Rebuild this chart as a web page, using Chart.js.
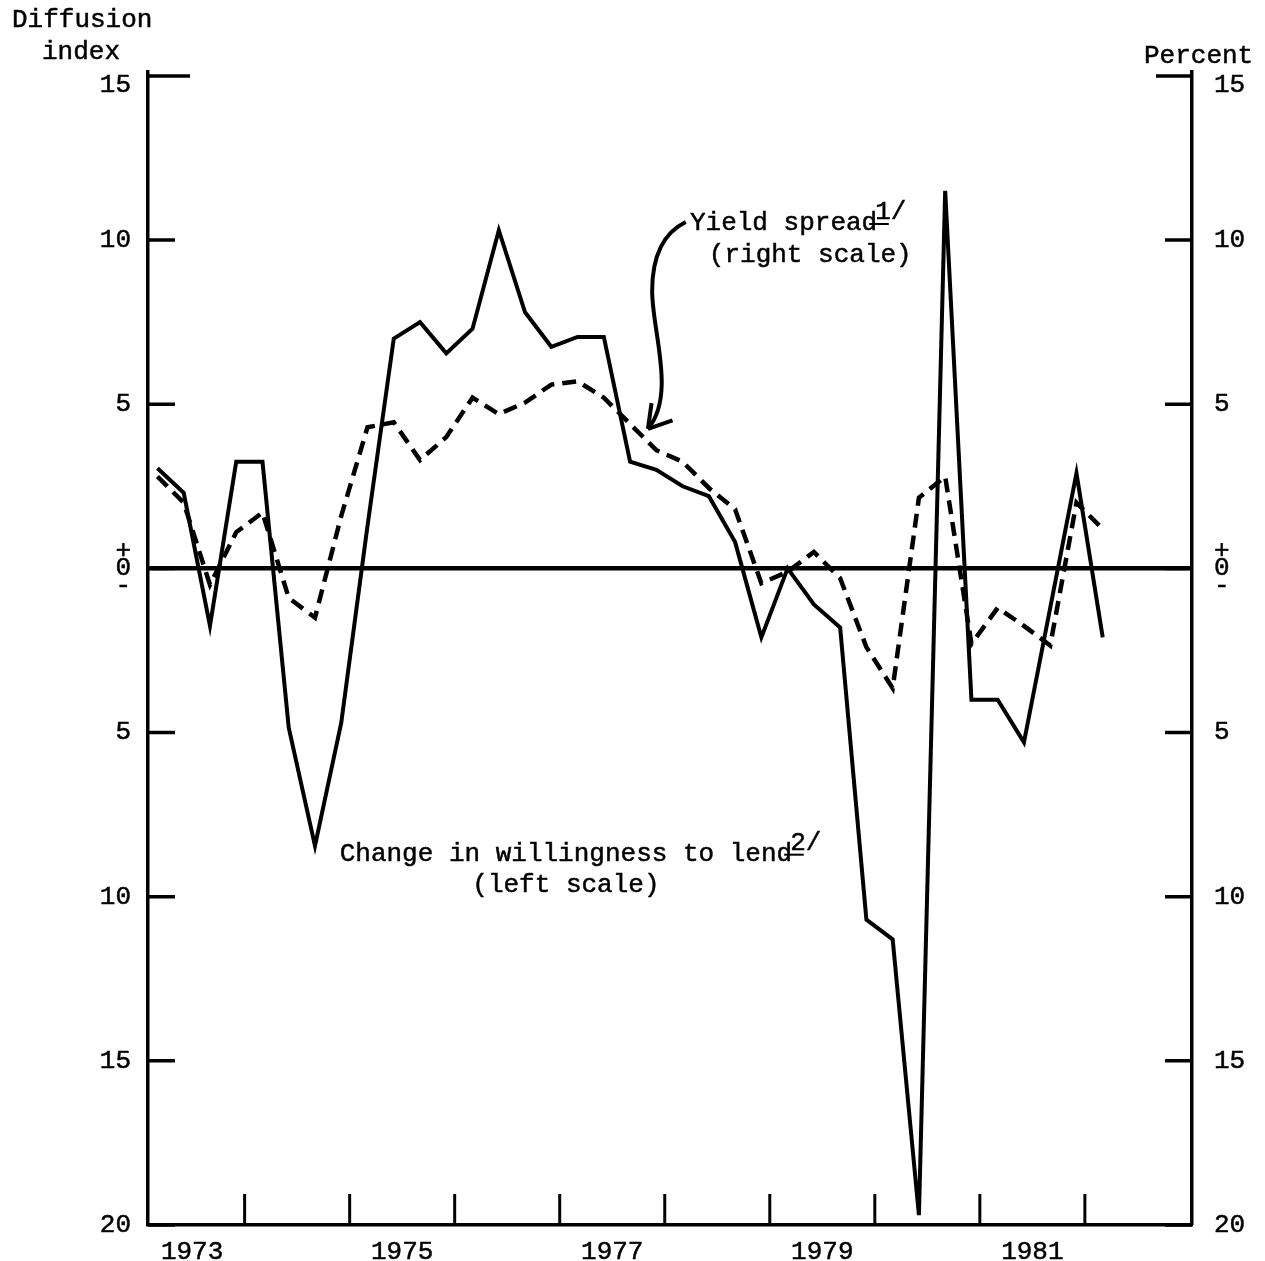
<!DOCTYPE html>
<html>
<head>
<meta charset="utf-8">
<script src="https://cdn.jsdelivr.net/npm/chart.js@4.4.0/dist/chart.umd.min.js"></script>
<style>
  html, body { margin: 0; padding: 0; background: #fff; }
  #chart { display: block; }
</style>
</head>
<body>
<canvas id="chart" width="1265" height="1261"></canvas>
<script>
// quarterly observations, 1973Q1 - 1982Q1
const quarters = [
    '1973Q1', '1973Q2', '1973Q3', '1973Q4',
    '1974Q1', '1974Q2', '1974Q3', '1974Q4',
    '1975Q1', '1975Q2', '1975Q3', '1975Q4',
    '1976Q1', '1976Q2', '1976Q3', '1976Q4',
    '1977Q1', '1977Q2', '1977Q3', '1977Q4',
    '1978Q1', '1978Q2', '1978Q3', '1978Q4',
    '1979Q1', '1979Q2', '1979Q3', '1979Q4',
    '1980Q1', '1980Q2', '1980Q3', '1980Q4',
    '1981Q1', '1981Q2', '1981Q3', '1981Q4',
    '1982Q1'
];

// change in willingness to lend (diffusion index, left scale)
const willingness = [
    3.05, 2.3, -1.75, 3.25,
    3.25, -4.85, -8.45, -4.7,
    1.3, 7.0, 7.5, 6.55,
    7.3, 10.3, 7.8, 6.75,
    7.05, 7.05, 3.25, 3.0,
    2.5, 2.2, 0.8, -2.1,
    0.0, -1.1, -1.8, -10.7,
    -11.3, -19.7, 11.5, -4.0,
    -4.0, -5.3, -1.2, 2.9,
    -2.1
];

// yield spread (percent, right scale)
const yieldSpread = [
    2.8, 2.0, -0.5, 1.1,
    1.7, -0.9, -1.5, 1.6,
    4.3, 4.45, 3.3, 4.0,
    5.2, 4.7, 5.05, 5.6,
    5.7, 5.2, 4.4, 3.6,
    3.25, 2.45, 1.8, -0.45,
    -0.1, 0.5, -0.3, -2.4,
    -3.65, 2.15, 2.8, -2.3,
    -1.2, -1.75, -2.35, 2.0,
    1.2
];

const yTickValues = [-20, -15, -10, -5, 0, 5, 10, 15];
const yearLabels = ['1973', '1975', '1977', '1979', '1981'];
const yearTicks = [1974, 1975, 1976, 1977, 1978, 1979, 1980, 1981, 1982];

const FONT = "'Liberation Mono', 'DejaVu Sans Mono', monospace";
const INK = '#000';

// point is drawn about two months into each quarter
const quarterToX = (q) => {
    const [y, n] = q.split('Q');
    return Number(y) + (Number(n) - 1) / 4 + 0.17;
};

const tickLabel = (v) => {
    if (v === 0) return ['+', '0', '-'];
    if (v === 15) return ['', '15'];
    return String(Math.abs(v));
};

// annotation anchors in data units (year, value)
const arrowPath = [[1978.20, 10.55], [1977.88, 10.05], [1977.88, 8.45], [1977.88, 7.2], [1978.11, 5.3], [1977.84, 4.25]];

const decorations = {
    id: 'decorations',
    afterDraw(chart) {
        const { ctx, chartArea: a } = chart;
        const xs = chart.scales.x, ys = chart.scales.y;
        const px = (p) => [xs.getPixelForValue(p[0]), ys.getPixelForValue(p[1])];
        ctx.save();
        ctx.strokeStyle = INK;
        ctx.fillStyle = INK;
        ctx.lineCap = 'butt';

        // inward tick marks on both value axes
        ctx.lineWidth = 3.5;
        yTickValues.forEach(v => {
            const y = ys.getPixelForValue(v);
            const l = v === 15 ? 42 : 27;
            const r = v === 15 ? 36 : 27;
            ctx.beginPath();
            ctx.moveTo(a.left, y); ctx.lineTo(a.left + l, y);
            ctx.moveTo(a.right - r, y); ctx.lineTo(a.right, y);
            ctx.stroke();
        });
        // year boundaries on the time axis
        ctx.lineWidth = 3;
        yearTicks.forEach(t => {
            const x = xs.getPixelForValue(t);
            ctx.beginPath();
            ctx.moveTo(x, a.bottom); ctx.lineTo(x, a.bottom - 31);
            ctx.stroke();
        });

        // axis titles
        ctx.font = '26px ' + FONT;
        ctx.lineWidth = 0.5;
        ctx.textBaseline = 'middle';
        ctx.textAlign = 'left';
        const txt = (s, x, y) => { ctx.fillText(s, x, y); ctx.strokeText(s, x, y); };
        txt('Diffusion', 12, 20);
        txt('index', 42, 52);
        txt('Percent', 1144, 56);

        // series labels with raised, underlined footnote marks
        const label = (text, sup, p) => {
            const [x, y] = px(p);
            ctx.lineWidth = 0.5;
            txt(text, x, y);
            const w = ctx.measureText(text).width;
            txt(sup, x + w - 2, y - 11);
            const sw = ctx.measureText(sup.charAt(0)).width;
            ctx.lineWidth = 2;
            ctx.beginPath();
            ctx.moveTo(x + w - 8, y + 1); ctx.lineTo(x + w - 4 + sw, y + 1);
            ctx.stroke();
            return [x, y, w];
        };
        label('Yield spread', '1/', [1978.24, 10.52]);
        const [rx, ry] = px([1978.42, 9.55]);
        ctx.lineWidth = 0.5;
        txt('(right scale)', rx, ry);

        const [cx, cy, cw] = label('Change in willingness to lend', '2/', [1974.905, -8.69]);
        ctx.textAlign = 'center';
        ctx.lineWidth = 0.5;
        txt('(left scale)', cx + cw / 2, cy + 31);

        // curved pointer to the yield spread line
        const pts = arrowPath.map(px);
        ctx.lineWidth = 4;
        ctx.beginPath();
        ctx.moveTo(pts[0][0], pts[0][1]);
        ctx.quadraticCurveTo(pts[1][0], pts[1][1], pts[2][0], pts[2][1]);
        ctx.bezierCurveTo(pts[3][0], pts[3][1], pts[4][0], pts[4][1], pts[5][0], pts[5][1]);
        ctx.stroke();
        const tip = pts[5], from = pts[4];
        const ang = Math.atan2(tip[1] - from[1], tip[0] - from[0]);
        ctx.beginPath();
        [-0.55, 0.55].forEach(d => {
            ctx.moveTo(tip[0], tip[1]);
            ctx.lineTo(tip[0] - 26 * Math.cos(ang + d), tip[1] - 26 * Math.sin(ang + d));
        });
        ctx.stroke();
        ctx.restore();
    }
};

const valueAxis = (position, width, withZero) => ({
    type: 'linear',
    position: position,
    min: -20,
    max: 15.12,
    afterBuildTicks: (scale) => { scale.ticks = yTickValues.map(v => ({ value: v })); },
    afterFit: (scale) => { scale.width = width; },
    grid: {
        display: withZero,
        drawTicks: false,
        color: (ctx) => (ctx.tick && ctx.tick.value === 0) ? INK : 'rgba(0,0,0,0)',
        lineWidth: (ctx) => (ctx.tick && ctx.tick.value === 0) ? 4.5 : 0
    },
    border: { display: true, color: INK, width: 3.5 },
    ticks: {
        callback: tickLabel,
        padding: position === 'left' ? 17 : 22,
        color: INK,
        textStrokeColor: INK,
        textStrokeWidth: 0.5,
        font: { family: FONT, size: 26, lineHeight: 0.68 }
    }
});

new Chart(document.getElementById('chart'), {
    type: 'line',
    data: {
        datasets: [{
            label: 'Change in willingness to lend',
            data: quarters.map((q, i) => ({ x: quarterToX(q), y: willingness[i] })),
            yAxisID: 'y',
            borderColor: INK,
            borderWidth: 4,
            pointRadius: 0,
            tension: 0
        }, {
            label: 'Yield spread',
            data: quarters.map((q, i) => ({ x: quarterToX(q), y: yieldSpread[i] })),
            yAxisID: 'y2',
            borderColor: INK,
            borderWidth: 4.5,
            borderDash: [14, 8],
            pointRadius: 0,
            tension: 0
        }]
    },
    options: {
        responsive: false,
        animation: false,
        layout: { padding: { top: 72, left: 0, right: 0, bottom: 0 } },
        plugins: { legend: { display: false }, tooltip: { enabled: false } },
        scales: {
            x: {
                type: 'linear',
                position: 'bottom',
                min: 1973.08,
                max: 1983.02,
                afterBuildTicks: (scale) => { scale.ticks = yearLabels.map(y => ({ value: Number(y) + 0.5 })); },
                afterFit: (scale) => { scale.height = 36; },
                grid: { display: false, drawTicks: false },
                border: { display: true, color: INK, width: 3.5 },
                ticks: {
                    callback: (v) => String(Math.floor(v)),
                    autoSkip: false,
                    maxRotation: 0,
                    padding: 12,
                    color: INK,
                    textStrokeColor: INK,
                    textStrokeWidth: 0.5,
                    font: { family: FONT, size: 26 }
                }
            },
            y: valueAxis('left', 148, true),
            y2: valueAxis('right', 73, false)
        }
    },
    plugins: [decorations]
});
</script>
</body>
</html>
